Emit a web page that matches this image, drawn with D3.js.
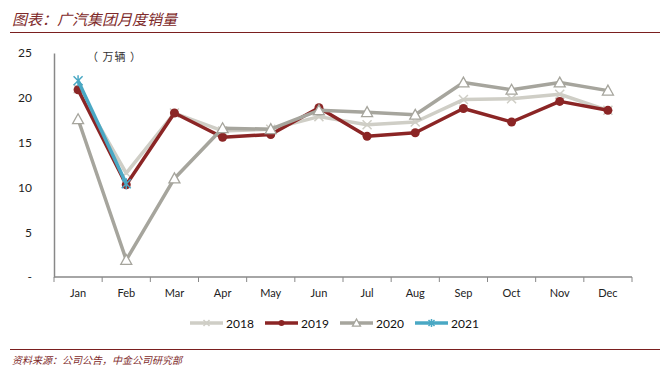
<!DOCTYPE html>
<html>
<head>
<meta charset="utf-8">
<script src="https://cdn.jsdelivr.net/npm/d3@7"></script>
<style>
  body { margin: 0; background: #fff; }
  svg text { font-family: Lato, "Open Sans", sans-serif; }
  .cjk { font-family: "Noto Sans CJK SC", sans-serif; font-style: italic; }
</style>
</head>
<body>
<div id="chart"></div>
<script>
const months = ["Jan", "Feb", "Mar", "Apr", "May", "Jun", "Jul", "Aug", "Sep", "Oct", "Nov", "Dec"];
const yTicks = [0, 5, 10, 15, 20, 25];

const sales2018 = [21.0, 11.6, 18.3, 16.3, 16.5, 17.9, 17.0, 17.3, 19.8, 19.9, 20.4, 18.6];
const sales2019 = [20.9, 10.3, 18.3, 15.6, 15.9, 18.9, 15.7, 16.1, 18.8, 17.3, 19.6, 18.6];
const sales2020 = [17.6, 1.9, 11.0, 16.6, 16.5, 18.6, 18.4, 18.1, 21.7, 20.9, 21.7, 20.8];
const sales2021 = [21.9, 10.4];

const seriesNames = ["2018", "2019", "2020", "2021"];

const W = 660, H = 378;
const margin = {top: 53, right: 28, bottom: 101, left: 54};
const width = W - margin.left - margin.right;
const height = H - margin.top - margin.bottom;

const svg = d3.select("#chart").append("svg")
    .attr("width", W)
    .attr("height", H);

// title + rules
svg.append("text")
    .attr("class", "cjk")
    .attr("x", 12).attr("y", 25)
    .attr("fill", "#7e2a2a")
    .style("font-size", "15px")
    .text("图表：广汽集团月度销量");
svg.append("line")
    .attr("x1", 10).attr("x2", 660).attr("y1", 32.5).attr("y2", 32.5)
    .attr("stroke", "#7a1f1f").attr("stroke-width", 1.2);
svg.append("line")
    .attr("x1", 10).attr("x2", 660).attr("y1", 349.5).attr("y2", 349.5)
    .attr("stroke", "#7a1f1f").attr("stroke-width", 1.2);
svg.append("text")
    .attr("class", "cjk")
    .attr("x", 12).attr("y", 364)
    .attr("fill", "#7e2a2a")
    .style("font-size", "10px")
    .text("资料来源：公司公告，中金公司研究部");

const g = svg.append("g")
    .attr("transform", `translate(${margin.left},${margin.top})`);

let xScale = d3.scaleBand().domain(months).range([0, width]);
let yScale = d3.scaleLinear().domain([0, 25]).range([height, 0]);

// X axis
let xAxis = d3.axisBottom(xScale).tickSize(4).tickSizeOuter(4).tickPadding(8);
let xAxisGroup = g.append("g")
    .attr("transform", `translate(0,${height})`)
    .call(xAxis);
// ticks between categories
xAxisGroup.selectAll(".tick line").remove();
xAxisGroup.selectAll(".tk")
    .data(d3.range(months.length + 1))
    .enter().append("line")
    .attr("x1", i => i * xScale.bandwidth())
    .attr("x2", i => i * xScale.bandwidth())
    .attr("y1", 0).attr("y2", 5)
    .attr("stroke", "#888");
xAxisGroup.select(".domain").attr("stroke", "#888").attr("stroke-width", 1.5)
    .attr("d", `M0,0H${width}`);
xAxisGroup.selectAll(".tick text").style("font-size", "11px").attr("fill", "#222");

// Y axis
let yAxis = d3.axisLeft(yScale).tickValues(yTicks).tickSize(0).tickPadding(22)
    .tickFormat(d => d === 0 ? "-" : d);
let yAxisGroup = g.append("g").call(yAxis);
yAxisGroup.select(".domain").attr("stroke", "#888").attr("stroke-width", 1.5);
yAxisGroup.selectAll(".tick text").style("font-size", "12px").attr("fill", "#222");

g.append("text")
    .attr("x", 33).attr("y", 8)
    .attr("fill", "#333")
    .style("font-family", "'Noto Sans CJK SC', sans-serif")
    .style("font-size", "11px")
    .style("letter-spacing", "1px")
    .text("（ 万辆 ）");

const styles = [
    {data: sales2018, color: "#cfcec6", marker: "x"},
    {data: sales2019, color: "#8b2525", marker: "circle"},
    {data: sales2020, color: "#a6a59d", marker: "triangle"},
    {data: sales2021, color: "#4aa8c4", marker: "star"}
];

const line = d3.line()
    .x((d, i) => xScale(months[i]) + xScale.bandwidth() / 2)
    .y(d => yScale(d));

function drawMarker(sel, s, cx, cy, size) {
    if (s.marker === "circle") {
        sel.append("circle").attr("cx", cx).attr("cy", cy).attr("r", size)
            .attr("fill", s.color);
    } else if (s.marker === "triangle") {
        const r = size + 1;
        sel.append("path")
            .attr("d", `M${cx},${cy - r}L${cx + r},${cy + r * 0.8}L${cx - r},${cy + r * 0.8}Z`)
            .attr("fill", "#fff").attr("stroke", s.color).attr("stroke-width", 1.3);
    } else {
        const r = size;
        let p = `M${cx - r},${cy - r}L${cx + r},${cy + r}M${cx - r},${cy + r}L${cx + r},${cy - r}`;
        if (s.marker === "star") p += `M${cx},${cy - r - 1}L${cx},${cy + r + 1}`;
        sel.append("path").attr("d", p)
            .attr("stroke", s.color).attr("stroke-width", 1.5).attr("fill", "none");
    }
}

styles.forEach(s => {
    const sg = g.append("g");
    sg.append("path")
        .datum(s.data)
        .attr("d", line)
        .attr("fill", "none")
        .attr("stroke", s.color)
        .attr("stroke-width", 3.5)
        .attr("stroke-linejoin", "round");
    s.data.forEach((v, i) => {
        drawMarker(sg, s, xScale(months[i]) + xScale.bandwidth() / 2, yScale(v), 4.5);
    });
});

// legend
const legendX = [190, 265, 340, 415];
const legend = svg.append("g").attr("transform", "translate(0,323)");
styles.forEach((s, i) => {
    const lg = legend.append("g").attr("transform", `translate(${legendX[i]},0)`);
    lg.append("line").attr("x1", 0).attr("x2", 33).attr("y1", 0).attr("y2", 0)
        .attr("stroke", s.color).attr("stroke-width", 3.5);
    drawMarker(lg, s, 16.5, 0, 3);
    lg.append("text").attr("x", 36).attr("y", 4.5)
        .style("font-size", "12px").attr("fill", "#111")
        .text(seriesNames[i]);
});
</script>
</body>
</html>
